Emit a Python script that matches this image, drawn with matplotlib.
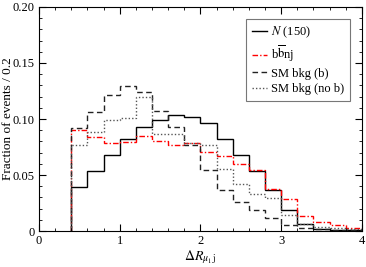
import numpy as np
import matplotlib
matplotlib.use("Agg")
import matplotlib.pyplot as plt
from matplotlib.ticker import MultipleLocator

plt.rcParams['font.family'] = ['Liberation Serif', 'DejaVu Serif']
plt.rcParams['mathtext.fontset'] = 'stix'

# bin edges, width 0.2 from 0.4 to 4.0
edges = np.round(np.arange(0.4, 4.0001, 0.2), 2)

n150 = [0.039, 0.0535, 0.068, 0.082, 0.0926, 0.099, 0.1038, 0.1015, 0.096,
        0.0823, 0.068, 0.0535, 0.0364, 0.0192, 0.006, 0.0018, 0.0012, 0.0006]
bbnj = [0.0905, 0.0837, 0.0787, 0.0793, 0.0852, 0.0808, 0.0772, 0.0784, 0.0704,
        0.0672, 0.0595, 0.0541, 0.0373, 0.0287, 0.0136, 0.0077, 0.0053, 0.0026]
sm_b = [0.092, 0.106, 0.121, 0.1293, 0.1237, 0.1074, 0.0926, 0.0765, 0.0548,
        0.037, 0.026, 0.0186, 0.0115, 0.005, 0.0025, 0.0015, 0.001, 0.0005]
sm_nob = [0.077, 0.0888, 0.0994, 0.1009, 0.1198, 0.0867, 0.0862, 0.079, 0.077,
          0.055, 0.0417, 0.033, 0.0293, 0.014, 0.0061, 0.0037, 0.003, 0.002]

xticks = [0, 1, 2, 3, 4]
yticks = [0, 0.05, 0.10, 0.15, 0.20]
ytick_labels = ['0', '0.05', '0.10', '0.15', '0.20']

fig = plt.figure(figsize=(3.66, 2.67), dpi=100)
ax = fig.add_axes([0.1066, 0.1348, 0.882, 0.839])

ax.stairs(n150, edges, color='black', lw=1.0, ls='-', baseline=0,
          label=r'$N$ (150)')
ax.stairs(bbnj, edges, color='red', lw=1.0, ls=(0, (4, 1.5, 1, 1.5)), baseline=0,
          label=r'b$\overline{\mathrm{b}}$nj')
ax.stairs(sm_b, edges, color='#222222', lw=1.0, ls=(0, (4, 2.5)), baseline=0,
          label='SM bkg (b)')
ax.stairs(sm_nob, edges, color='#555555', lw=1.0, ls=(0, (1, 1.5)), baseline=0,
          label='SM bkg (no b)')

ax.set_xlim(0, 4)
ax.set_ylim(0, 0.2)
ax.set_xticks(xticks)
ax.set_xticklabels([str(t) for t in xticks])
ax.set_yticks(yticks)
ax.set_yticklabels(ytick_labels)
ax.xaxis.set_minor_locator(MultipleLocator(0.2))
ax.yaxis.set_minor_locator(MultipleLocator(0.01))
ax.tick_params(which='both', direction='in', top=True, right=True, labelsize=9)
ax.tick_params(which='major', length=5, pad=3)
ax.tick_params(which='minor', length=2.5)

ax.set_xlabel(r'$\Delta R_{\mu_1\,\mathrm{j}}$', fontsize=10, labelpad=1)
ax.set_ylabel('Fraction of events / 0.2', fontsize=9.5)
ax.yaxis.set_label_coords(-0.078, 0.5)

leg = ax.legend(loc='upper right', bbox_to_anchor=(0.963, 0.946), fontsize=9,
                frameon=True, fancybox=False, edgecolor='#555555',
                handlelength=1.2, handletextpad=0.35, borderpad=0.45,
                labelspacing=0.3, borderaxespad=0)
leg.get_frame().set_linewidth(0.8)

fig.savefig('out.png', dpi=100)
